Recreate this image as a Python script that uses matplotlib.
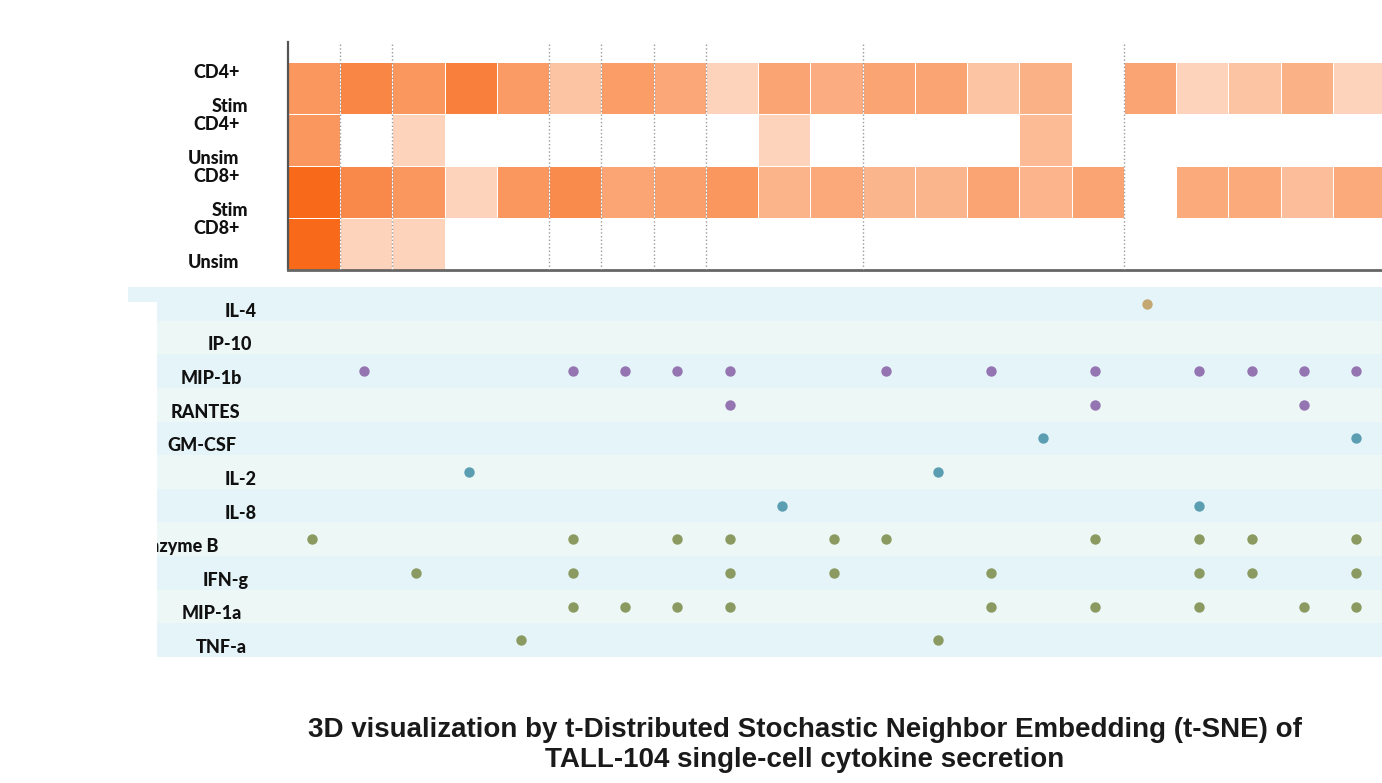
import numpy as np
import matplotlib
matplotlib.use("Agg")
import matplotlib.pyplot as plt
from matplotlib.colors import LinearSegmentedColormap
from matplotlib.patches import Rectangle
from matplotlib.transforms import blended_transform_factory

nan = np.nan

# --- data -------------------------------------------------------------
n_clusters = 21
groups = [("CD4+", "Stim"), ("CD4+", "Unsim"), ("CD8+", "Stim"), ("CD8+", "Unsim")]

# relative frequency of each t-SNE cluster per group (nan = not present)
cd4_stim = [0.60, 0.75, 0.60, 0.80, 0.57, 0.20, 0.55, 0.45, 0.06, 0.48, 0.40,
            0.48, 0.48, 0.20, 0.37, nan, 0.48, 0.06, 0.20, 0.37, 0.06]
cd4_unsim = [0.60, nan, 0.06, nan, nan, nan, nan, nan, nan, 0.06, nan,
             nan, nan, nan, 0.28, nan, nan, nan, nan, nan, nan]
cd8_stim = [1.00, 0.72, 0.60, 0.06, 0.60, 0.70, 0.47, 0.52, 0.60, 0.35, 0.44,
            0.33, 0.33, 0.48, 0.34, 0.48, nan, 0.43, 0.43, 0.25, 0.43]
cd8_unsim = [1.00, 0.06, 0.06, nan, nan, nan, nan, nan, nan, nan, nan,
             nan, nan, nan, nan, nan, nan, nan, nan, nan, nan]

# cluster boundaries marked with a dotted line
split_lines = [1, 2, 5, 6, 7, 8, 11, 16]

cytokines = ["IL-4", "IP-10", "MIP-1b", "RANTES", "GM-CSF", "IL-2", "IL-8",
             "Granzyme B", "IFN-g", "MIP-1a", "TNF-a"]
# clusters in which each cytokine is secreted
secreted = [
    [16],
    [],
    [1, 5, 6, 7, 8, 11, 13, 15, 17, 18, 19, 20],
    [8, 15, 19],
    [14, 20],
    [3, 12],
    [9, 17],
    [0, 5, 7, 8, 10, 11, 15, 17, 18, 20],
    [2, 5, 8, 10, 13, 17, 18, 20],
    [5, 6, 7, 8, 13, 15, 17, 19, 20],
    [4, 12],
]
cytokine_class = ["regulatory", "chemo", "chemo", "chemo", "stim", "stim", "stim",
                  "effector", "effector", "effector", "effector"]

# --- style ------------------------------------------------------------
class_colors = {"regulatory": "#C4A874", "chemo": "#9575B1",
                "stim": "#5B9EB1", "effector": "#8A9A60"}
band_colors = ["#E5F4F9", "#EDF7F5"]
label_font = dict(family=["Lato", "DejaVu Sans"], weight=900, size=13, color="#111111")
# right edge of each cytokine label, in figure pixels
cyto_label_right = [257, 252, 242, 240, 237, 257, 257, 218, 249, 242, 247]

W, H = 1382, 783
fig = plt.figure(figsize=(W / 100, H / 100), dpi=100)

# --- heatmap of cluster frequencies ----------------------------------
x0, x1 = 288, 1382
ax = fig.add_axes([x0 / W, 1 - 270 / H, (x1 - x0) / W, (270 - 42) / H])
grid = np.ma.masked_invalid(np.array([cd4_stim, cd4_unsim, cd8_stim, cd8_unsim]))
cmap = LinearSegmentedColormap.from_list("peach", ["#FDDAC5", "#F86A1A"])
cmap.set_bad("white")
ax.pcolormesh(np.arange(n_clusters + 1), np.arange(len(groups) + 1), grid,
              cmap=cmap, vmin=0, vmax=1, edgecolors="#FFFFFF", linewidth=0.5)
for b in split_lines:
    ax.axvline(b, color="#9A9A9A", linestyle=":", linewidth=1.0, zorder=3)

col_w = 1094 / 20.94
ax.set_xlim(0, (x1 - x0) / col_w)
ax.set_ylim(len(groups), -20 / 52)
ax.set_xticks([])
ax.set_yticks([])
for s in ["top", "right"]:
    ax.spines[s].set_visible(False)
ax.spines["left"].set_color("#555555")
ax.spines["left"].set_linewidth(1.6)
ax.spines["bottom"].set_color("#666666")
ax.spines["bottom"].set_linewidth(2.0)

for i, (cell, state) in enumerate(groups):
    ax.text((240 - x0) / col_w, i + 0.21, cell, ha="right", va="center",
            clip_on=False, **label_font)
    rx = 248 if state == "Stim" else 239
    ax.text((rx - x0) / col_w, i + 0.85, state, ha="right", va="center",
            clip_on=False, **label_font)

# --- cytokine secretion dot matrix ------------------------------------
bx0 = 157
bx = fig.add_axes([bx0 / W, 1 - 657 / H, (W - bx0) / W, (657 - 287) / H])
step = 52.2
bx.set_xlim((bx0 - 312) / step, (W - 312) / step)
bx.set_ylim(len(cytokines), 0)
bx.axis("off")
for i in range(len(cytokines)):
    bx.axhspan(i, i + 1, color=band_colors[i % 2], lw=0, zorder=0)

for i, (name, cols, cls) in enumerate(zip(cytokines, secreted, cytokine_class)):
    if cols:
        bx.scatter(cols, [i + 0.5] * len(cols), s=56, color=class_colors[cls],
                   linewidths=0, zorder=3)
    trans = blended_transform_factory(bx.transAxes, bx.transData)
    bx.text((cyto_label_right[i] - bx0) / (W - bx0), i + 0.72, name,
            transform=trans, ha="right", va="center", clip_on=True, **label_font)

# small stub of the first band to the left
fig.patches.append(Rectangle((128 / W, 1 - 302 / H), (bx0 - 128) / W, 15 / H,
                             transform=fig.transFigure, color=band_colors[0], lw=0))

fig.text(805 / W, 1 - 745 / H,
         "3D visualization by t-Distributed Stochastic Neighbor Embedding (t-SNE) of\n"
         "TALL-104 single-cell cytokine secretion",
         ha="center", va="center", family="Liberation Sans", weight="bold",
         size=20, color="#1A1A1A", linespacing=1.2)

fig.savefig("out.png", dpi=100)
